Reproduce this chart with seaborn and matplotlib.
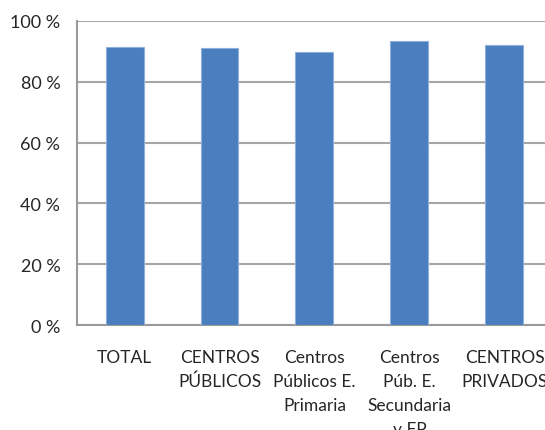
import matplotlib
matplotlib.use("Agg")
import matplotlib.pyplot as plt
import seaborn as sns
import pandas as pd
from matplotlib.ticker import FuncFormatter

categories = ["TOTAL", "CENTROS\nPÚBLICOS", "Centros\nPúblicos E.\nPrimaria",
              "Centros\nPúb. E.\nSecundaria\ny FP", "CENTROS\nPRIVADOS"]
values = [91.3, 91.1, 89.7, 93.5, 92.0]
yticks = [0, 20, 40, 60, 80, 100]

df = pd.DataFrame({"cat": categories, "val": values})

sns.set_theme(style="white")
plt.rcParams['font.family'] = ['Lato', 'DejaVu Sans']

fig = plt.figure(figsize=(5.45, 4.31), dpi=100)
ax = fig.add_axes([0.1413, 0.2436, 0.8715, 0.7054])

sns.barplot(data=df, x="cat", y="val", color="#4a7ebf", saturation=1,
            width=0.4, edgecolor="#8fb0dc", linewidth=0.8, ax=ax, zorder=3)

ax.set_ylim(0, 100)
ax.set_xlim(-0.5, 4.5)
ax.set_yticks(yticks)
ax.yaxis.set_major_formatter(FuncFormatter(lambda v, p: f"{int(v)} %"))
ax.grid(axis="y", color="#a6a6a6", linewidth=1.5, zorder=0)
ax.set_axisbelow(True)
ax.set_xlabel("")
ax.set_ylabel("")

for s in ["top", "right"]:
    ax.spines[s].set_visible(False)
for s in ["left", "bottom"]:
    ax.spines[s].set_color("#9a9a9a")
    ax.spines[s].set_linewidth(1.5)

ax.set_xticks([-0.5, 0.5, 1.5, 2.5, 3.5, 4.5], minor=True)
ax.tick_params(axis="x", which="major", length=0, pad=17, labelsize=12.5, colors="#262626")
ax.tick_params(axis="x", which="minor", length=6, width=1.5, color="#9a9a9a", direction="out")
ax.tick_params(axis="y", length=6, width=1.5, color="#9a9a9a", labelsize=13, labelcolor="#262626", pad=6)
for lbl in ax.get_xticklabels():
    lbl.set_linespacing(1.62)

fig.savefig("out.png", dpi=100)
